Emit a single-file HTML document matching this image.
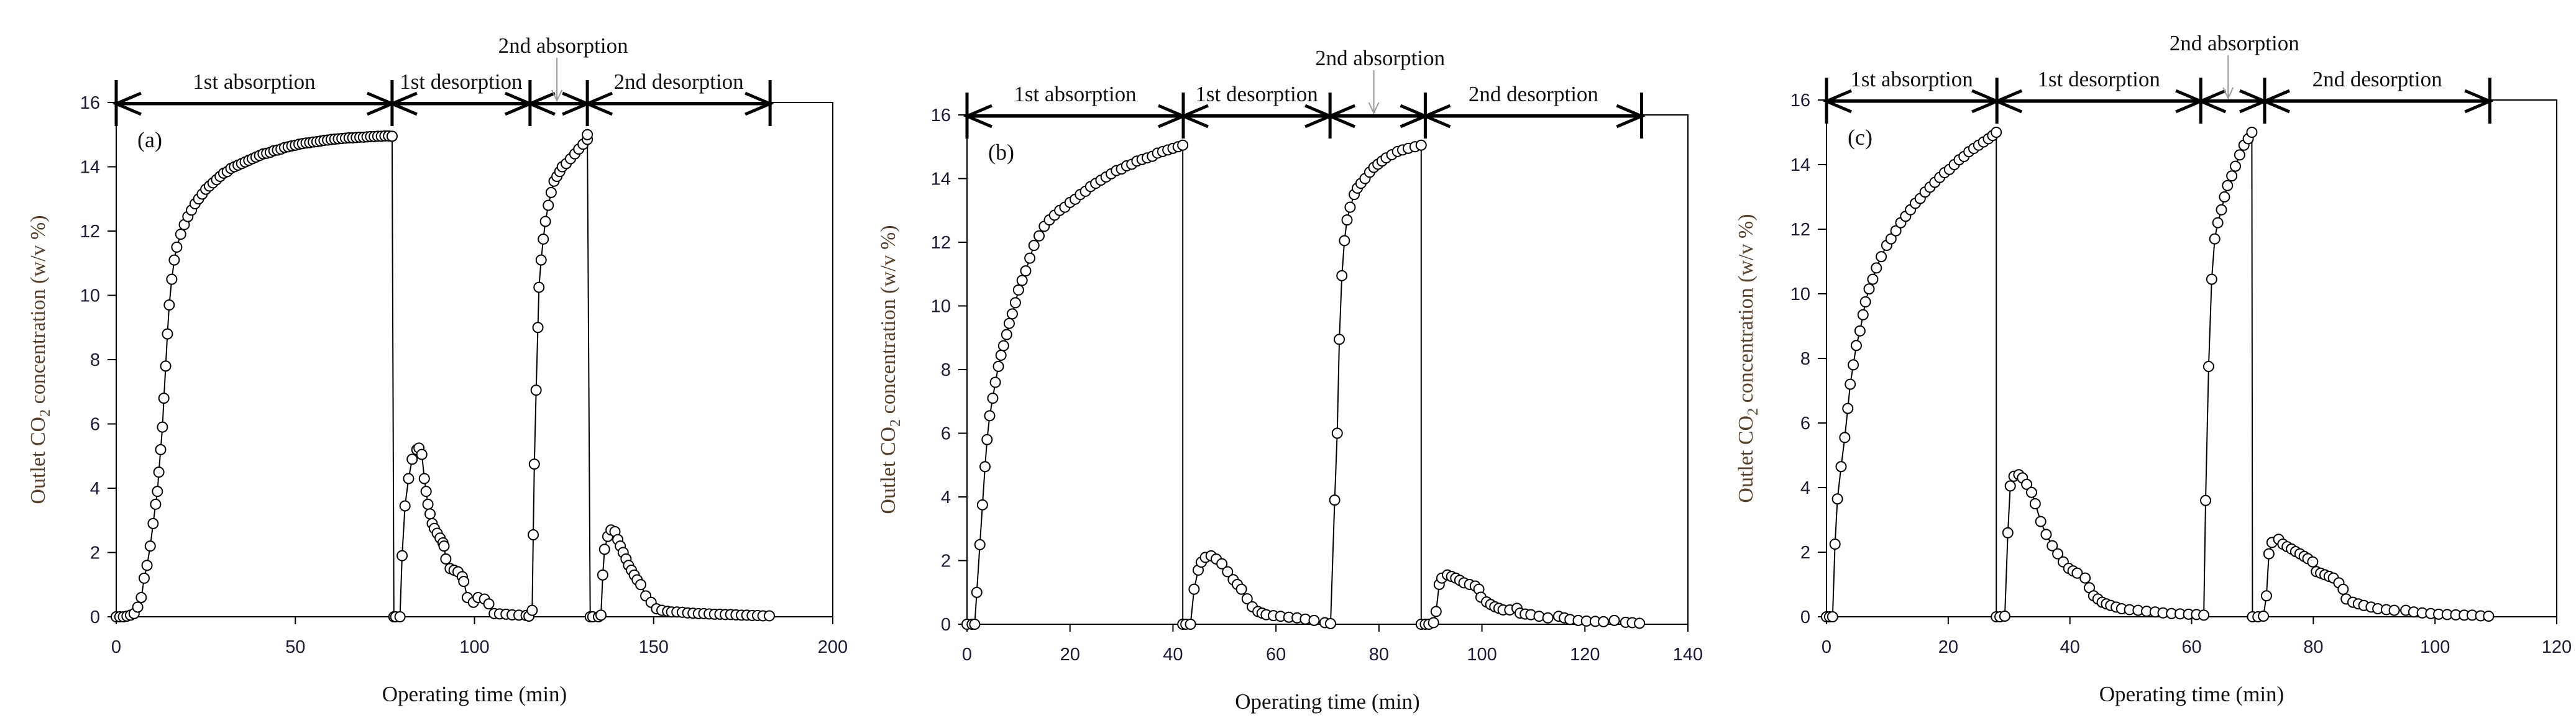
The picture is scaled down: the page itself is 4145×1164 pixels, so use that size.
<!DOCTYPE html>
<html><head><meta charset="utf-8"><style>
html,body{margin:0;padding:0;background:#fff;}
svg{display:block;}
</style></head><body>
<svg id="fig" width="4145" height="1164" viewBox="0 0 4145 1164" xmlns="http://www.w3.org/2000/svg"></svg>
<script>
// ---------- Panel (a) data ----------
const timeA = [0,1,2,3,4,5,6,7,7.8,8.6,9.5,10.3,11,11.5,11.9,12.4,12.9,13.3,13.8,14.3,14.8,15.5,16.2,16.9,
 18,19,20,21,22,23,24,25,26,27,28,29,30,31,32,33,34,35,36,37,38,39,40,41,42,43,44,45,46,47,48,49,50,51,52,53,54,55,56,57,58,59,60,61,62,63,64,65,66,67,68,69,70,71,72,73,74,75,76,77,
 77,77.5,78,79.2,79.8,80.6,81.6,82.6,83.9,84.5,85.3,86,86.5,87,87.6,88.2,88.8,89.6,90.4,91.2,91.5,92,93.2,94.3,95.4,96.6,97,98,99.7,101,102.8,104,105.5,107,108.8,110.5,112.4,114.4,115.2,
 116.1,116.4,116.7,117.2,117.7,118,118.6,119.2,119.8,120.6,121.4,122.2,123,123.8,124.5,125.6,126.8,128,129.1,130.3,131.5,
 131.5,132.3,133,134.6,135.3,135.8,136.3,137.2,138.1,139.2,140,140.7,141.5,142.3,143,143.8,144.6,145.4,146.4,147.8,149.3,150.8,152.3,153.9,155,156.5,158,159.5,161,162.5,164,165.5,167,168.5,170,171.5,173,174.5,176,177.5,179,180.5,182.3];
const concA = [0,0,0,0.02,0.05,0.1,0.3,0.6,1.2,1.6,2.2,2.9,3.5,3.9,4.5,5.2,5.9,6.8,7.8,8.8,9.7,10.5,11.1,11.5,
 11.9,12.2,12.45,12.65,12.85,13.0,13.15,13.3,13.4,13.5,13.6,13.7,13.8,13.85,13.95,14.0,14.05,14.1,14.15,14.2,14.25,14.3,14.35,14.4,14.42,14.45,14.5,14.52,14.55,14.6,14.62,14.65,14.67,14.7,14.72,14.74,14.75,14.77,14.78,14.8,14.82,14.83,14.85,14.86,14.87,14.88,14.89,14.9,14.9,14.91,14.92,14.92,14.93,14.94,14.94,14.95,14.95,14.96,14.96,14.95,14.95,
 0,0,0,1.9,3.45,4.3,4.9,5.2,5.25,5.05,4.3,3.9,3.5,3.2,2.9,2.75,2.6,2.45,2.3,2.2,1.8,1.5,1.45,1.4,1.25,1.1,0.6,0.45,0.6,0.55,0.4,0.1,0.09,0.08,0.06,0.05,0.04,0.02,0.2,
 2.55,4.75,7.05,9,10.25,11.1,11.75,12.3,12.8,13.2,13.55,13.7,13.85,14.0,14.1,14.25,14.4,14.55,14.7,14.85,15.0,
 0,0,0,0.05,1.3,2.1,2.5,2.7,2.65,2.4,2.2,2.0,1.8,1.6,1.45,1.3,1.15,1.0,0.65,0.45,0.25,0.2,0.17,0.15,0.15,0.14,0.12,0.11,0.1,0.1,0.09,0.08,0.08,0.07,0.07,0.06,0.05,0.05,0.04,0.04,0.03,0.03,0.02];
const xTicksA = [0,50,100,150,200];
const phasesA = [0,77,115.5,131.5,182.5];
const gapA = 123;

// ---------- Panel (b) data ----------
const timeB = [0,1,1.5,1.9,2.5,3,3.5,3.9,4.4,5,5.5,6.1,6.6,7.1,7.7,8.2,8.8,9.4,10,10.7,11.4,12.2,13,14,15,16,17,18,19,20,21,22,23,24,25,26,27,28,29,30,31,32,33,34,35,36,37,38,39,40,41,41.9,
 41.9,42.5,43.4,44.1,44.9,45.5,46.3,47.4,48.4,49.5,50.6,51.7,52.5,53.3,54.4,55.4,56.5,57.3,58.1,59.5,60.9,62.5,64.1,65.7,67.4,69.5,70.6,
 71.4,71.9,72.3,72.8,73.3,73.8,74.4,75.2,75.8,76.5,77.3,78.2,79,79.8,80.6,81.4,82.5,83.6,84.6,85.7,87,88.2,
 88.2,89,89.7,90.6,91.1,91.7,92.2,93.3,94.1,94.9,95.7,96.5,97.6,98.7,99.4,99.8,100.9,101.7,102.5,103.3,104.1,105.4,106.8,107.4,108.4,109.5,111.1,112.8,114.9,116,117.1,118.7,120.3,122,123.6,125.7,127.9,129.2,130.6];
const concB = [0,0,0,1,2.5,3.75,4.95,5.8,6.55,7.1,7.6,8.1,8.45,8.75,9.1,9.45,9.75,10.1,10.5,10.8,11.1,11.5,11.9,12.2,12.5,12.7,12.85,13.0,13.1,13.25,13.35,13.5,13.6,13.75,13.85,13.95,14.05,14.15,14.25,14.3,14.4,14.45,14.55,14.6,14.65,14.7,14.8,14.85,14.9,14.95,15.0,15.05,
 0,0,0,1.1,1.7,1.95,2.1,2.15,2.05,1.9,1.65,1.4,1.25,1.1,0.8,0.55,0.4,0.35,0.3,0.27,0.25,0.22,0.2,0.16,0.12,0.05,0.02,
 3.9,6.0,8.95,10.95,12.05,12.7,13.1,13.5,13.7,13.85,14.0,14.2,14.35,14.45,14.55,14.65,14.75,14.85,14.9,14.95,15.0,15.05,
 0,0,0,0.05,0.4,1.25,1.45,1.55,1.5,1.45,1.38,1.3,1.25,1.2,1.1,0.85,0.7,0.62,0.55,0.5,0.45,0.45,0.5,0.35,0.32,0.3,0.25,0.2,0.25,0.2,0.15,0.12,0.1,0.09,0.08,0.12,0.06,0.05,0.03];
const xTicksB = [0,20,40,60,80,100,120,140];
const phasesB = [0,42,70.5,89,131];
const gapB = 79;

// ---------- Panel (c) data ----------
const timeC = [0,0.5,1,1.4,1.8,2.4,3,3.5,3.9,4.4,4.9,5.5,6,6.4,7,7.6,8.2,9,9.9,10.6,11.4,12.2,13,13.8,14.6,15.4,16.2,17,17.8,18.6,19.4,20.2,21,21.8,22.6,23.4,24.2,25,25.8,26.6,27.3,27.9,
 27.9,28.5,29.3,29.8,30.2,30.8,31.6,32.2,32.9,33.7,34.3,35.2,36.1,37.1,38,38.9,39.8,40.5,41.2,42.5,43.2,43.9,44.6,45.3,46,46.7,47.6,48.5,49.8,51.2,52.6,54,55.3,56.7,58.1,59.5,60.8,62,
 62.3,62.8,63.3,63.8,64.3,64.9,65.4,65.9,66.6,67.2,67.9,68.6,69.3,69.9,
 70,70.9,71.8,72.3,72.7,73.2,74.3,75,75.7,76.4,77.1,77.8,78.5,79.1,79.9,80.5,81.2,81.9,82.6,83.3,84.2,84.9,85.4,86.5,87.4,88.3,89.5,90.6,92,93.3,95.2,96.5,97.9,99.3,100.6,102,103.4,104.8,106.1,107.5,108.8];
const concC = [0,0,0,2.25,3.65,4.65,5.55,6.45,7.2,7.8,8.4,8.85,9.35,9.75,10.15,10.45,10.8,11.15,11.5,11.7,11.95,12.2,12.4,12.6,12.8,12.95,13.15,13.3,13.45,13.6,13.75,13.85,14.0,14.15,14.25,14.4,14.5,14.6,14.7,14.8,14.9,15.0,
 0,0,0.02,2.6,4.05,4.35,4.4,4.3,4.1,3.85,3.5,2.95,2.55,2.2,1.95,1.7,1.5,1.42,1.35,1.2,0.9,0.65,0.55,0.45,0.4,0.35,0.3,0.25,0.22,0.2,0.17,0.15,0.12,0.1,0.09,0.08,0.07,0.05,
 3.6,7.75,10.45,11.7,12.2,12.6,13.0,13.35,13.65,13.95,14.3,14.6,14.8,15.0,
 0,0,0.02,0.65,1.95,2.3,2.4,2.25,2.17,2.1,2.02,1.95,1.87,1.8,1.7,1.4,1.35,1.3,1.25,1.2,1.05,0.85,0.55,0.45,0.4,0.35,0.3,0.25,0.22,0.2,0.2,0.15,0.12,0.1,0.08,0.07,0.06,0.05,0.05,0.03,0.02];
const xTicksC = [0,20,40,60,80,100,120];
const phasesC = [0,28,61.5,72,109];
const gapC = 66;

const yTicks = [0,2,4,6,8,10,12,14,16];
const phaseNames = ["1st absorption","1st desorption","2nd absorption","2nd desorption"];

const NS = "http://www.w3.org/2000/svg";
const svg = document.getElementById('fig');
function mk(tag, attrs, parent){
  const e = document.createElementNS(NS, tag);
  for (const k in attrs) e.setAttribute(k, attrs[k]);
  (parent||svg).appendChild(e);
  return e;
}

function panel(id, letter, times, conc, xTicks, phases, gapT, geo){
  const xMax = xTicks[xTicks.length-1];
  const sx = t => geo.x0 + (t/xMax)*(geo.x1-geo.x0);
  const sy = v => geo.y0 - (v/16)*(geo.y0-geo.y16);
  const g = mk('g', {});
  
  

  const frame = mk('rect', {x:geo.x0, y:geo.y16, width:geo.x1-geo.x0, height:geo.y0-geo.y16, fill:'none', stroke:'#000', 'stroke-width':2}, g);
  
  

  yTicks.forEach(v=>{
    const y = sy(v);
    const tk = mk('line', {x1:geo.x0-14, x2:geo.x0, y1:y, y2:y, stroke:'#000','stroke-width':2}, g);
    
    
    const tl = mk('text', {x:geo.x0-26, y:y+10, 'text-anchor':'end', 'font-family':'Liberation Sans, sans-serif','font-size':29, fill:'#1a1a3a'}, g);
    tl.textContent = v;
    
    
  });
  xTicks.forEach(v=>{
    const x = sx(v);
    const tk = mk('line', {x1:x, x2:x, y1:geo.y0, y2:geo.y0+12, stroke:'#000','stroke-width':2}, g);
    
    
    const tl = mk('text', {x:x, y:geo.y0+58, 'text-anchor':'middle', 'font-family':'Liberation Sans, sans-serif','font-size':29, fill:'#1a1a3a'}, g);
    tl.textContent = v;
    
    
  });

  const xt = mk('text', {x:(geo.x0+geo.x1)/2, y:geo.y0+136, 'text-anchor':'middle','font-family':'Liberation Serif, serif','font-size':35, fill:'#111'}, g);
  xt.textContent = 'Operating time (min)';
  
  
  const yc = (geo.y0+geo.y16)/2;
  const yt = mk('text', {x:0, y:0, transform:`translate(${geo.yTitleX},${yc}) rotate(-90)`, 'text-anchor':'middle','font-family':'Liberation Serif, serif','font-size':34, fill:'#5a4028'}, g);
  yt.innerHTML = 'Outlet CO<tspan font-size="24" dy="8">2</tspan><tspan dy="-8"> concentration (w/v %)</tspan>';
  
  

  const lt = mk('text', {x:geo.x0+34, y:geo.y16+72, 'font-family':'Liberation Serif, serif','font-size':36, fill:'#111'}, g);
  lt.textContent = '('+letter+')';
  
  

  const pts = times.map((t,i)=>sx(t).toFixed(1)+','+sy(conc[i]).toFixed(1)).join(' ');
  const pl = mk('polyline', {points:pts, fill:'none', stroke:'#000','stroke-width':2}, g);
  
  
  times.forEach((t,i)=>{
    const c = mk('circle', {cx:sx(t), cy:sy(conc[i]), r:8, fill:'#fff', stroke:'#000','stroke-width':2}, g);
    
    
  });

  const yb = geo.y16 + 2;
  const bl = mk('line', {x1:sx(phases[0]), x2:sx(phases[4]), y1:yb, y2:yb, stroke:'#000','stroke-width':5}, g);
  
  
  phases.forEach((p,i)=>{
    const x = sx(p);
    const b = mk('line', {x1:x, x2:x, y1:yb-38, y2:yb+36, stroke:'#000','stroke-width':5}, g);
    
    
    const sides = [];
    if (i>0) sides.push(-1);
    if (i<phases.length-1) sides.push(1);
    sides.forEach(s=>{
      const a = mk('polyline', {points:`${x+s*40},${yb-17} ${x},${yb} ${x+s*40},${yb+17}`, fill:'none', stroke:'#000','stroke-width':5}, g);
      
      
    });
  });
  phaseNames.forEach((n,i)=>{
    let x = (sx(phases[i])+sx(phases[i+1]))/2, y = yb-24;
    if (i===2){ x = sx(gapT)+10; y = yb-82; }
    const tx = mk('text', {x:x, y:y, 'text-anchor':'middle','font-family':'Liberation Serif, serif','font-size':35, fill:'#111'}, g);
    tx.textContent = n;
    
    
  });
  const gx = sx(gapT);
  const ga = mk('line', {x1:gx, x2:gx, y1:yb-74, y2:yb-6, stroke:'#999','stroke-width':2}, g);
  
  
  const gh = mk('polyline', {points:`${gx-8},${yb-22} ${gx},${yb-5} ${gx+8},${yb-22}`, fill:'none', stroke:'#999','stroke-width':2}, g);
  
  
}

panel('a','a', timeA, concA, xTicksA, phasesA, gapA, {x0:187, x1:1340, y0:993, y16:165, yTitleX:72});
panel('b','b', timeB, concB, xTicksB, phasesB, gapB, {x0:1556, x1:2716, y0:1005, y16:185, yTitleX:1440});
panel('c','c', timeC, concC, xTicksC, phasesC, gapC, {x0:2939, x1:4114, y0:993, y16:161, yTitleX:2820});
</script>
</body></html>
